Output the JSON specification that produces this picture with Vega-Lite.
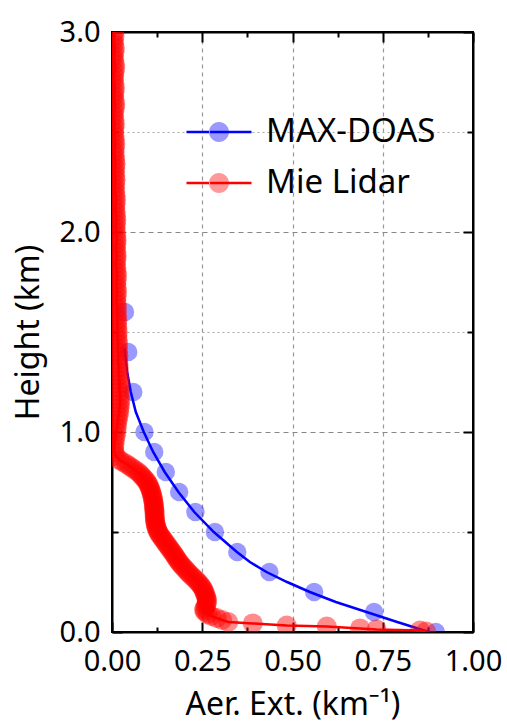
{
  "$schema": "https://vega.github.io/schema/vega-lite/v6.json",
  "width": 361,
  "height": 600,
  "autosize": {"type": "none"},
  "padding": {"left": 112, "top": 32, "right": 34, "bottom": 93},
  "config": {
    "view": {"stroke": "black", "strokeWidth": 2},
    "font": "Noto Sans",
    "axis": {
      "domainColor": "black",
      "domainWidth": 2,
      "tickColor": "black",
      "tickWidth": 2,
      "labelFont": "Noto Sans",
      "labelFontSize": 29,
      "labelColor": "black",
      "titleFont": "Noto Sans",
      "titleFontSize": 32,
      "titleFontWeight": "normal",
      "titleColor": "black",
      "gridColor": "#999999",
      "gridWidth": 1.2
    }
  },
  "datasets": {
    "doas_pts": [
      {"h": 0.0, "ext": 0.897, "series": "MAX-DOAS"},
      {"h": 0.1, "ext": 0.726, "series": "MAX-DOAS"},
      {"h": 0.2, "ext": 0.56, "series": "MAX-DOAS"},
      {"h": 0.3, "ext": 0.436, "series": "MAX-DOAS"},
      {"h": 0.4, "ext": 0.347, "series": "MAX-DOAS"},
      {"h": 0.5, "ext": 0.285, "series": "MAX-DOAS"},
      {"h": 0.6, "ext": 0.231, "series": "MAX-DOAS"},
      {"h": 0.7, "ext": 0.186, "series": "MAX-DOAS"},
      {"h": 0.8, "ext": 0.149, "series": "MAX-DOAS"},
      {"h": 0.9, "ext": 0.117, "series": "MAX-DOAS"},
      {"h": 1.0, "ext": 0.09, "series": "MAX-DOAS"},
      {"h": 1.2, "ext": 0.059, "series": "MAX-DOAS"},
      {"h": 1.4, "ext": 0.045, "series": "MAX-DOAS"},
      {"h": 1.6, "ext": 0.036, "series": "MAX-DOAS"}
    ],
    "doas_fit": [
      {"h": 1.42, "ext": 0.034, "series": "MAX-DOAS"},
      {"h": 1.3, "ext": 0.042, "series": "MAX-DOAS"},
      {"h": 1.2, "ext": 0.052, "series": "MAX-DOAS"},
      {"h": 1.1, "ext": 0.066, "series": "MAX-DOAS"},
      {"h": 1.0, "ext": 0.088, "series": "MAX-DOAS"},
      {"h": 0.9, "ext": 0.114, "series": "MAX-DOAS"},
      {"h": 0.8, "ext": 0.146, "series": "MAX-DOAS"},
      {"h": 0.7, "ext": 0.184, "series": "MAX-DOAS"},
      {"h": 0.6, "ext": 0.228, "series": "MAX-DOAS"},
      {"h": 0.5, "ext": 0.282, "series": "MAX-DOAS"},
      {"h": 0.4, "ext": 0.346, "series": "MAX-DOAS"},
      {"h": 0.35, "ext": 0.382, "series": "MAX-DOAS"},
      {"h": 0.3, "ext": 0.428, "series": "MAX-DOAS"},
      {"h": 0.25, "ext": 0.485, "series": "MAX-DOAS"},
      {"h": 0.2, "ext": 0.548, "series": "MAX-DOAS"},
      {"h": 0.15, "ext": 0.62, "series": "MAX-DOAS"},
      {"h": 0.1, "ext": 0.705, "series": "MAX-DOAS"},
      {"h": 0.05, "ext": 0.79, "series": "MAX-DOAS"},
      {"h": 0.0, "ext": 0.878, "series": "MAX-DOAS"}
    ],
    "lidar": [
      {"h": 3.00, "ext": 0.006}, {"h": 2.98, "ext": 0.007}, {"h": 2.96, "ext": 0.005}, {"h": 2.94, "ext": 0.006},
      {"h": 2.92, "ext": 0.008}, {"h": 2.90, "ext": 0.007}, {"h": 2.88, "ext": 0.005}, {"h": 2.86, "ext": 0.006},
      {"h": 2.84, "ext": 0.008}, {"h": 2.82, "ext": 0.009}, {"h": 2.80, "ext": 0.007}, {"h": 2.78, "ext": 0.006},
      {"h": 2.76, "ext": 0.005}, {"h": 2.74, "ext": 0.007}, {"h": 2.72, "ext": 0.008}, {"h": 2.70, "ext": 0.007},
      {"h": 2.68, "ext": 0.006}, {"h": 2.66, "ext": 0.007}, {"h": 2.64, "ext": 0.009}, {"h": 2.62, "ext": 0.008},
      {"h": 2.60, "ext": 0.006}, {"h": 2.58, "ext": 0.005}, {"h": 2.56, "ext": 0.007}, {"h": 2.54, "ext": 0.008},
      {"h": 2.52, "ext": 0.007}, {"h": 2.50, "ext": 0.006}, {"h": 2.48, "ext": 0.007}, {"h": 2.46, "ext": 0.008},
      {"h": 2.44, "ext": 0.009}, {"h": 2.42, "ext": 0.008}, {"h": 2.40, "ext": 0.007}, {"h": 2.38, "ext": 0.008},
      {"h": 2.36, "ext": 0.009}, {"h": 2.34, "ext": 0.010}, {"h": 2.32, "ext": 0.009}, {"h": 2.30, "ext": 0.008},
      {"h": 2.28, "ext": 0.009}, {"h": 2.26, "ext": 0.010}, {"h": 2.24, "ext": 0.009}, {"h": 2.22, "ext": 0.008},
      {"h": 2.20, "ext": 0.009}, {"h": 2.18, "ext": 0.010}, {"h": 2.16, "ext": 0.011}, {"h": 2.14, "ext": 0.010},
      {"h": 2.12, "ext": 0.009}, {"h": 2.10, "ext": 0.010}, {"h": 2.08, "ext": 0.011}, {"h": 2.06, "ext": 0.012},
      {"h": 2.04, "ext": 0.011}, {"h": 2.02, "ext": 0.010}, {"h": 2.00, "ext": 0.011}, {"h": 1.98, "ext": 0.012},
      {"h": 1.96, "ext": 0.013}, {"h": 1.94, "ext": 0.012}, {"h": 1.92, "ext": 0.011}, {"h": 1.90, "ext": 0.012},
      {"h": 1.88, "ext": 0.013}, {"h": 1.86, "ext": 0.012}, {"h": 1.84, "ext": 0.011}, {"h": 1.82, "ext": 0.012},
      {"h": 1.80, "ext": 0.013}, {"h": 1.78, "ext": 0.014}, {"h": 1.76, "ext": 0.013}, {"h": 1.74, "ext": 0.012},
      {"h": 1.72, "ext": 0.013}, {"h": 1.70, "ext": 0.014}, {"h": 1.68, "ext": 0.013}, {"h": 1.66, "ext": 0.012},
      {"h": 1.64, "ext": 0.013}, {"h": 1.62, "ext": 0.014}, {"h": 1.60, "ext": 0.013}, {"h": 1.58, "ext": 0.014},
      {"h": 1.56, "ext": 0.015}, {"h": 1.54, "ext": 0.014}, {"h": 1.52, "ext": 0.015}, {"h": 1.50, "ext": 0.016},
      {"h": 1.48, "ext": 0.015}, {"h": 1.46, "ext": 0.016}, {"h": 1.44, "ext": 0.017}, {"h": 1.42, "ext": 0.016},
      {"h": 1.40, "ext": 0.017}, {"h": 1.38, "ext": 0.018}, {"h": 1.36, "ext": 0.017}, {"h": 1.34, "ext": 0.018},
      {"h": 1.32, "ext": 0.019}, {"h": 1.30, "ext": 0.018}, {"h": 1.28, "ext": 0.019}, {"h": 1.26, "ext": 0.020},
      {"h": 1.24, "ext": 0.021}, {"h": 1.22, "ext": 0.020}, {"h": 1.20, "ext": 0.021}, {"h": 1.18, "ext": 0.022},
      {"h": 1.16, "ext": 0.023}, {"h": 1.14, "ext": 0.022}, {"h": 1.12, "ext": 0.021}, {"h": 1.10, "ext": 0.020},
      {"h": 1.08, "ext": 0.018}, {"h": 1.06, "ext": 0.016}, {"h": 1.04, "ext": 0.014}, {"h": 1.02, "ext": 0.013},
      {"h": 1.00, "ext": 0.012}, {"h": 0.98, "ext": 0.010}, {"h": 0.96, "ext": 0.008}, {"h": 0.94, "ext": 0.007},
      {"h": 0.92, "ext": 0.006}, {"h": 0.90, "ext": 0.007}, {"h": 0.88, "ext": 0.011}, {"h": 0.86, "ext": 0.021},
      {"h": 0.85, "ext": 0.030}, {"h": 0.84, "ext": 0.040}, {"h": 0.83, "ext": 0.048}, {"h": 0.82, "ext": 0.056},
      {"h": 0.81, "ext": 0.064}, {"h": 0.80, "ext": 0.072}, {"h": 0.79, "ext": 0.078}, {"h": 0.78, "ext": 0.083},
      {"h": 0.77, "ext": 0.088}, {"h": 0.76, "ext": 0.093}, {"h": 0.75, "ext": 0.097}, {"h": 0.74, "ext": 0.100},
      {"h": 0.73, "ext": 0.103}, {"h": 0.72, "ext": 0.105}, {"h": 0.71, "ext": 0.107}, {"h": 0.70, "ext": 0.109},
      {"h": 0.69, "ext": 0.110}, {"h": 0.68, "ext": 0.112}, {"h": 0.67, "ext": 0.113}, {"h": 0.66, "ext": 0.114},
      {"h": 0.65, "ext": 0.115}, {"h": 0.64, "ext": 0.116}, {"h": 0.63, "ext": 0.116}, {"h": 0.62, "ext": 0.117},
      {"h": 0.61, "ext": 0.117}, {"h": 0.60, "ext": 0.118}, {"h": 0.59, "ext": 0.118}, {"h": 0.58, "ext": 0.118},
      {"h": 0.57, "ext": 0.119}, {"h": 0.56, "ext": 0.119}, {"h": 0.55, "ext": 0.120}, {"h": 0.54, "ext": 0.121},
      {"h": 0.53, "ext": 0.122}, {"h": 0.52, "ext": 0.124}, {"h": 0.51, "ext": 0.126}, {"h": 0.50, "ext": 0.128},
      {"h": 0.49, "ext": 0.131}, {"h": 0.48, "ext": 0.135}, {"h": 0.47, "ext": 0.139}, {"h": 0.46, "ext": 0.143},
      {"h": 0.45, "ext": 0.147}, {"h": 0.44, "ext": 0.151}, {"h": 0.43, "ext": 0.155}, {"h": 0.42, "ext": 0.159},
      {"h": 0.41, "ext": 0.163}, {"h": 0.40, "ext": 0.167}, {"h": 0.39, "ext": 0.171}, {"h": 0.38, "ext": 0.175},
      {"h": 0.37, "ext": 0.178}, {"h": 0.36, "ext": 0.182}, {"h": 0.35, "ext": 0.186}, {"h": 0.34, "ext": 0.190},
      {"h": 0.33, "ext": 0.195}, {"h": 0.32, "ext": 0.200}, {"h": 0.31, "ext": 0.205}, {"h": 0.30, "ext": 0.210},
      {"h": 0.29, "ext": 0.215}, {"h": 0.28, "ext": 0.221}, {"h": 0.27, "ext": 0.227}, {"h": 0.26, "ext": 0.233},
      {"h": 0.25, "ext": 0.238}, {"h": 0.24, "ext": 0.243}, {"h": 0.23, "ext": 0.247}, {"h": 0.22, "ext": 0.251},
      {"h": 0.21, "ext": 0.254}, {"h": 0.20, "ext": 0.256}, {"h": 0.19, "ext": 0.258}, {"h": 0.18, "ext": 0.260},
      {"h": 0.17, "ext": 0.262}, {"h": 0.16, "ext": 0.263}, {"h": 0.15, "ext": 0.263}, {"h": 0.14, "ext": 0.262},
      {"h": 0.13, "ext": 0.260}, {"h": 0.12, "ext": 0.256}, {"h": 0.11, "ext": 0.255}, {"h": 0.10, "ext": 0.258},
      {"h": 0.09, "ext": 0.265}, {"h": 0.08, "ext": 0.275}, {"h": 0.07, "ext": 0.290}, {"h": 0.06, "ext": 0.305},
      {"h": 0.05, "ext": 0.322}, {"h": 0.043, "ext": 0.390}, {"h": 0.032, "ext": 0.484}, {"h": 0.027, "ext": 0.595},
      {"h": 0.018, "ext": 0.687}, {"h": 0.013, "ext": 0.733}, {"h": 0.007, "ext": 0.853}, {"h": 0.002, "ext": 0.870}
    ]
  },
  "resolve": {"axis": {"x": "independent", "y": "independent"}},
  "layer": [
    {
      "data": {"name": "doas_pts"},
      "mark": {"type": "point", "filled": true, "size": 340, "fillOpacity": 0.4, "strokeWidth": 0, "clip": true},
      "encoding": {
        "x": {
          "field": "ext", "type": "quantitative",
          "scale": {"domain": [0, 1], "nice": false, "zero": false},
          "title": "Aer. Ext. (km⁻¹)",
          "axis": {
            "orient": "bottom",
            "values": [0, 0.125, 0.25, 0.375, 0.5, 0.625, 0.75, 0.875, 1],
            "labelExpr": "(datum.value*8)%2==0 ? format(datum.value,'.2f') : ''",
            "tickSize": {"condition": {"test": "(datum.value*8)%2==0", "value": -10}, "value": -5},
            "labelPadding": 25,
            "labelFlush": false,
            "labelOverlap": false,
            "grid": true,
            "gridDash": [4, 4],
            "gridOpacity": {"condition": {"test": "(datum.value*8)%2==0 && datum.value>0 && datum.value<1", "value": 1}, "value": 0},
            "titlePadding": 8
          }
        },
        "y": {
          "field": "h", "type": "quantitative",
          "scale": {"domain": [0, 3], "nice": false, "zero": false},
          "title": "Height (km)",
          "axis": {
            "orient": "left",
            "values": [0, 0.5, 1, 1.5, 2, 2.5, 3],
            "labelExpr": "datum.value%1==0 ? format(datum.value,'.1f') : ''",
            "tickSize": {"condition": {"test": "datum.value%1==0", "value": -10}, "value": -6},
            "labelPadding": 22,
            "labelFlush": false,
            "labelOverlap": false,
            "grid": true,
            "gridDash": {"condition": {"test": "datum.value%1==0", "value": [5, 4]}, "value": [2, 3]},
            "gridColor": {"condition": {"test": "datum.value%1==0", "value": "#888888"}, "value": "#aaaaaa"},
            "gridOpacity": {"condition": {"test": "datum.value>0 && datum.value<3", "value": 1}, "value": 0},
            "titlePadding": 14
          }
        },
        "color": {
          "field": "series", "type": "nominal",
          "scale": {"domain": ["MAX-DOAS", "Mie Lidar"], "range": ["#0000ff", "#ff0000"]},
          "legend": {
            "orient": "none",
            "legendX": 73,
            "legendY": 66,
            "title": null,
            "symbolType": "M-1,0L-0.3077,0A0.3077,0.3077,0,1,0,0.3077,0A0.3077,0.3077,0,1,0,-0.3077,0L1,0",
            "symbolSize": 4225,
            "symbolStrokeWidth": 2.5,
            "symbolDash": [22.5, 63.5, 60],
            "labelFontSize": 33,
            "labelFont": "Noto Sans",
            "labelColor": "black",
            "labelLimit": 0,
            "labelOffset": 13,
            "rowPadding": 0,
            "encode": {
              "symbols": {
                "update": {
                  "fill": {"signal": "datum.value == 'MAX-DOAS' ? '#0000ff' : '#ff0000'"},
                  "stroke": {"signal": "datum.value == 'MAX-DOAS' ? '#0000ff' : '#ff0000'"},
                  "fillOpacity": {"value": 0.4},
                  "strokeOpacity": {"value": 1},
                  "opacity": {"value": 1}
                }
              }
            }
          }
        }
      }
    },
    {
      "data": {"name": "doas_fit"},
      "mark": {"type": "line", "color": "#0000ff", "strokeWidth": 2.5, "clip": true},
      "encoding": {
        "x": {
          "field": "ext", "type": "quantitative",
          "axis": {
            "orient": "top",
            "values": [0, 0.125, 0.25, 0.375, 0.5, 0.625, 0.75, 0.875, 1],
            "labels": false,
            "grid": false,
            "title": null,
            "tickSize": {"condition": {"test": "(datum.value*8)%2==0", "value": -10}, "value": -5}
          }
        },
        "y": {
          "field": "h", "type": "quantitative",
          "axis": {
            "orient": "right",
            "values": [0, 0.5, 1, 1.5, 2, 2.5, 3],
            "labels": false,
            "grid": false,
            "title": null,
            "tickSize": {"condition": {"test": "datum.value%1==0", "value": -10}, "value": -6}
          }
        },
        "order": {"field": "h", "type": "quantitative"}
      }
    },
    {
      "data": {"name": "lidar"},
      "transform": [{"calculate": "'Mie Lidar'", "as": "series"}],
      "mark": {"type": "point", "filled": true, "size": 400, "fillOpacity": 0.45, "strokeWidth": 0, "clip": true},
      "encoding": {
        "x": {"field": "ext", "type": "quantitative", "axis": null},
        "y": {"field": "h", "type": "quantitative", "axis": null},
        "color": {"field": "series", "type": "nominal"}
      }
    },
    {
      "data": {"name": "lidar"},
      "mark": {"type": "line", "color": "#ff0000", "strokeWidth": 2.5, "clip": true},
      "encoding": {
        "x": {"field": "ext", "type": "quantitative", "axis": null},
        "y": {"field": "h", "type": "quantitative", "axis": null},
        "order": {"field": "h", "type": "quantitative"}
      }
    }
  ]
}
